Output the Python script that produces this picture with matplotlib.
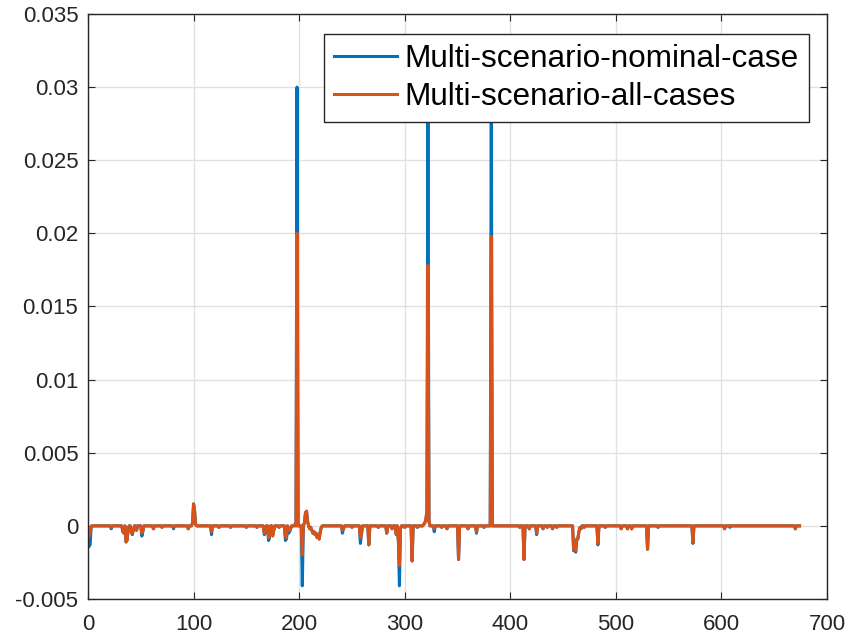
import matplotlib
matplotlib.use("Agg")
import matplotlib.pyplot as plt
import numpy as np
from matplotlib.ticker import FuncFormatter, MultipleLocator

plt.rcParams["font.family"] = ["Liberation Sans", "DejaVu Sans"]

# sample index range of both series
n_samples = 674

# non-zero samples: (index, nominal-case, all-cases)
spike_idx = [
    1, 2, 3, 22, 33, 34, 36, 37, 38, 41, 42, 43, 46, 51, 52, 62, 70, 81, 95,
    99, 100, 101, 102, 117, 124, 135, 150, 160, 167, 168, 171, 172, 175, 176,
    181, 187, 188, 190, 191, 192, 196, 198, 203, 205, 206, 207, 208, 210, 211,
    212, 213, 214, 215, 216, 217, 218, 219, 220, 221, 241, 242, 250, 258, 259,
    266, 275, 283, 288, 292, 294, 295, 296, 300, 307, 312, 318, 319, 320, 321,
    322, 323, 328, 335, 340, 351, 360, 368, 375, 382, 409, 413, 418, 425, 431,
    435, 440, 444, 460, 461, 462, 463, 464, 465, 466, 467, 470, 483, 490, 505,
    511, 515, 530, 540, 573, 603, 608, 670,
]
nominal_val = [
    -0.0014, -0.0013, -0.0001, -0.0002, -0.0004, -0.0005, -0.0011, -0.0010,
    -0.0003, -0.0004, -0.0006, -0.0003, -0.0003, -0.0007, -0.0004, -0.0002,
    -0.0001, -0.0002, -0.0002, 0.0002, 0.0015, 0.0010, 0.0001, -0.0006,
    -0.0001, -0.0001, -0.0001, -0.0001, -0.0006, -0.0004, -0.0010, -0.0008,
    -0.0006, -0.0003, -0.0001, -0.0010, -0.0009, -0.0005, -0.0004, -0.0002,
    0.0001, 0.0300, -0.0041, 0.0002, 0.0009, 0.0010, 0.0003, -0.0002,
    -0.0001, -0.0003, -0.0005, -0.0004, -0.0006, -0.0005, -0.0008, -0.0006,
    -0.0009, -0.0004, -0.0001, -0.0005, -0.0002, -0.0001, -0.0012, -0.0006,
    -0.0013, -0.0001, -0.0005, -0.0002, -0.0006, -0.0010, -0.0041, -0.0002,
    -0.0001, -0.0024, -0.0001, 0.0001, 0.0002, 0.0004, 0.0010, 0.0300,
    0.0003, -0.0004, -0.0001, -0.0002, -0.0023, -0.0002, -0.0005, -0.0001,
    0.0300, -0.0001, -0.0023, -0.0002, -0.0006, -0.0002, -0.0001, -0.0002,
    -0.0001, -0.0017, -0.0015, -0.0018, -0.0009, -0.0009, -0.0004, -0.0001,
    -0.0002, -0.0001, -0.0013, -0.0001, -0.0002, -0.0002, -0.0002, -0.0016,
    -0.0001, -0.0012, -0.0002, -0.0001, -0.0002,
]
allcases_val = [
    -0.0007, -0.0006, 0.0000, -0.0001, -0.0004, -0.0005, -0.0011, -0.0010,
    -0.0003, -0.0004, -0.0005, -0.0003, -0.0003, -0.0005, -0.0003, -0.0002,
    -0.0001, -0.0001, -0.0002, 0.0002, 0.0015, 0.0010, 0.0001, -0.0004,
    -0.0001, -0.0001, -0.0001, -0.0001, -0.0005, -0.0003, -0.0008, -0.0007,
    -0.0007, -0.0003, -0.0001, -0.0007, -0.0008, -0.0003, -0.0003, -0.0001,
    0.0001, 0.0200, -0.0020, 0.0002, 0.0009, 0.0010, 0.0003, -0.0002,
    -0.0001, -0.0003, -0.0005, -0.0004, -0.0006, -0.0005, -0.0008, -0.0006,
    -0.0009, -0.0004, -0.0001, -0.0003, -0.0002, -0.0001, -0.0008, -0.0006,
    -0.0013, -0.0001, -0.0005, -0.0002, -0.0006, -0.0010, -0.0027, -0.0002,
    -0.0001, -0.0024, -0.0001, 0.0001, 0.0002, 0.0004, 0.0010, 0.0178,
    0.0003, -0.0002, -0.0001, -0.0002, -0.0023, -0.0002, -0.0004, -0.0001,
    0.0198, -0.0001, -0.0023, -0.0002, -0.0005, -0.0002, -0.0001, -0.0002,
    -0.0001, -0.0016, -0.0015, -0.0017, -0.0009, -0.0009, -0.0004, -0.0001,
    -0.0002, -0.0001, -0.0012, -0.0001, -0.0002, -0.0002, -0.0002, -0.0016,
    -0.0001, -0.0011, -0.0002, 0.0000, -0.0002,
]

series_labels = ["Multi-scenario-nominal-case", "Multi-scenario-all-cases"]
x_ticks = [0, 100, 200, 300, 400, 500, 600, 700]

x = np.arange(1, n_samples + 1)
nominal = np.zeros(n_samples)
allcases = np.zeros(n_samples)
nominal[np.array(spike_idx) - 1] = nominal_val
allcases[np.array(spike_idx) - 1] = allcases_val

fig = plt.figure(figsize=(8.51, 6.39), dpi=100)
ax = fig.add_axes([0.1034, 0.0626, 0.8684, 0.9155])

ax.plot(x, nominal, color="#0072BD", linewidth=2.2, label=series_labels[0])
ax.plot(x, allcases, color="#D95319", linewidth=2.2, label=series_labels[1])

ax.set_xlim(0, 700)
ax.set_ylim(-0.005, 0.035)
ax.set_xticks(x_ticks)
ax.yaxis.set_major_locator(MultipleLocator(0.005))
ax.yaxis.set_major_formatter(FuncFormatter(lambda v, p: "%g" % round(v, 4)))

ax.grid(True, color="#e1e1e1", linewidth=1.0)
ax.set_axisbelow(True)
for spine in ax.spines.values():
    spine.set_color("#262626")
    spine.set_linewidth(1.0)
ax.tick_params(axis="both", direction="in", top=True, right=True, length=5,
               width=0.8, color="#262626", labelsize=16, labelcolor="#262626")
ax.tick_params(axis="x", pad=11)
ax.tick_params(axis="y", pad=7)

leg = ax.legend(loc="upper right", bbox_to_anchor=(0.9756, 0.9658),
                borderaxespad=0, fontsize=22.7, fancybox=False, framealpha=1,
                edgecolor="#262626", handlelength=2.0, handletextpad=0.23,
                borderpad=0.33, labelspacing=0.24)
leg.get_frame().set_linewidth(1.0)

fig.savefig("out.png", dpi=100)
plt.close(fig)
